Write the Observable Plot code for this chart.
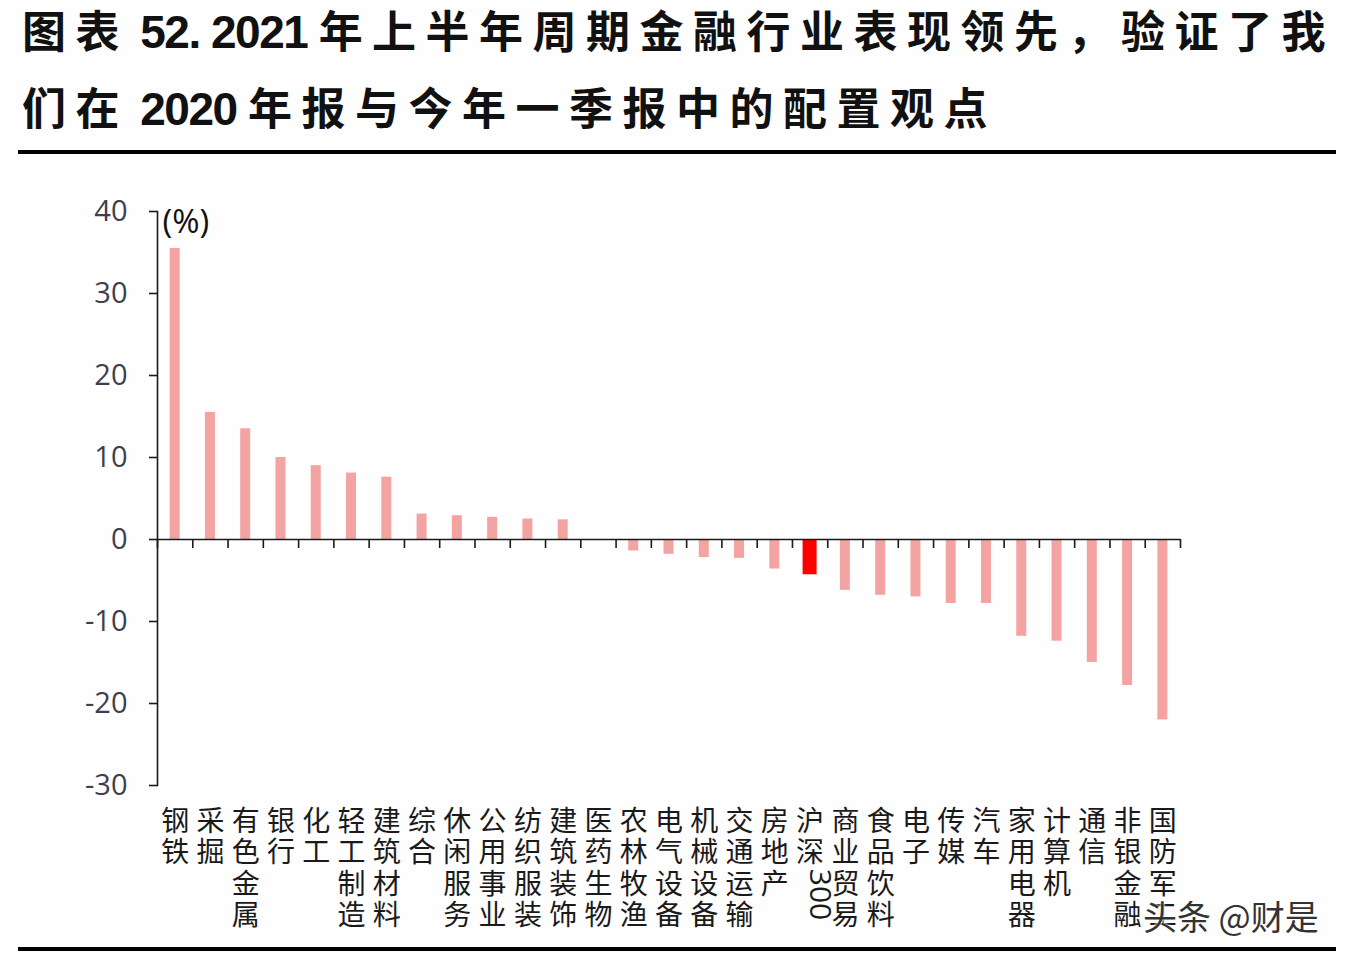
<!DOCTYPE html>
<html><head><meta charset="utf-8">
<script src="https://cdn.jsdelivr.net/npm/d3@7"></script>
<script src="https://cdn.jsdelivr.net/npm/@observablehq/plot@0.6"></script>
<style>
body{margin:0;background:#fff;}
#wrap{position:relative;width:1352px;height:960px;overflow:hidden;background:#fefefe;}
.tl{position:absolute;left:22px;font-family:"Noto Sans CJK SC",sans-serif;font-weight:700;font-size:44px;line-height:56px;letter-spacing:9.5px;color:#111;white-space:nowrap;}
.num{font-family:"Liberation Sans",Arial,sans-serif;font-weight:700;letter-spacing:-1.5px;font-size:46px;}
.rule{position:absolute;left:18px;width:1318px;height:4px;background:#000;}
#chart{position:absolute;left:0;top:160px;}
#wm{position:absolute;left:1143px;top:891px;font-family:"Noto Sans CJK SC",sans-serif;font-size:34px;color:#333;text-shadow:0 0 2px #fff,0 0 3px #fff;}
</style></head>
<body>
<div id="wrap">
  <div id="t1" class="tl" style="top:1px"></div>
  <div id="t2" class="tl" style="top:78px"></div>
  <div class="rule" style="top:150px"></div>
  <div id="chart"></div>
  <div class="rule" style="top:947px"></div>
  <div id="wm">头条 @财是</div>
</div>
<script>
const titleLine1 = ["图表", " 52. 2021 ", "年上半年周期金融行业表现领先，验证了我"];
const titleLine2 = ["们在", " 2020 ", "年报与今年一季报中的配置观点"];
const categories = ["钢铁","采掘","有色金属","银行","化工","轻工制造","建筑材料","综合","休闲服务","公用事业","纺织服装","建筑装饰","医药生物","农林牧渔","电气设备","机械设备","交通运输","房地产","沪深300","商业贸易","食品饮料","电子","传媒","汽车","家用电器","计算机","通信","非银金融","国防军工"];
const values = [35.5,15.5,13.5,10.0,9.0,8.1,7.6,3.1,2.9,2.7,2.5,2.4,0.0,-1.4,-1.8,-2.2,-2.3,-3.6,-4.3,-6.2,-6.8,-7.0,-7.8,-7.8,-11.8,-12.4,-15.0,-17.8,-22.0];
const highlight = "沪深300";
const yTicks = [-30,-20,-10,0,10,20,30,40];
const unitLabel = "(%)";

const mk = (parts) => parts.map((p,i)=> i===1 ? `<span class="num">${p}</span>` : p).join("");
document.getElementById("t1").innerHTML = mk(titleLine1);
document.getElementById("t2").innerHTML = mk(titleLine2);

const data = categories.map((c,i)=>({cat:c, value:values[i]}));
const labelRows = categories.map(c => {
  const tokens = c.match(/\d+|./g);
  return {cat:c, chars: tokens.filter(s=>!/\d/.test(s)).join("\n"), digits: tokens.filter(s=>/\d/.test(s)).join("")};
});
const W=1352, H=786, ML=157, MR=172, MT=51, MB=161;
const step = (W-ML-MR)/categories.length;
const axisColor = "#1a1a1a";

const chart = Plot.plot({
  width: W, height: H, marginLeft: ML, marginRight: MR, marginTop: MT, marginBottom: MB,
  x: {domain: categories, padding: 0, round: false, axis: null},
  y: {domain: [-30, 40], axis: null, label: null},
  style: {background: "transparent", overflow: "visible", fontFamily: "'Open Sans', sans-serif"},
  marks: [
    Plot.barY(data.filter(d=>d.cat!==highlight), {x:"cat", y:"value", fill:"#f3a4a2", insetLeft:(step-10)/2, insetRight:(step-10)/2}),
    Plot.barY(data.filter(d=>d.cat===highlight), {x:"cat", y:"value", fill:"#ff0000", insetLeft:(step-14)/2, insetRight:(step-14)/2}),
    Plot.frame({anchor:"left", stroke:axisColor, strokeWidth:1.6}),
    Plot.ruleY([0], {stroke:axisColor, strokeWidth:1.6}),
    Plot.ruleX(categories, {x:d=>d, y1:0, y2:-1.1, dx:-step/2, stroke:axisColor, strokeWidth:1.6}),
    Plot.ruleX([categories[categories.length-1]], {x:d=>d, y1:0, y2:-1.1, dx:step/2, stroke:axisColor, strokeWidth:1.6}),
    Plot.axisY({ticks: yTicks, label: null, tickSize: 8, tickPadding: 22, fontSize: 29, stroke: axisColor, strokeWidth: 1.6, fill: "#3e3e4e", tickFormat: d=>String(d)}),
    Plot.text([unitLabel], {frameAnchor:"top-left", textAnchor:"start", lineAnchor:"middle", dx:5, dy:11, fontSize:33, fill:"#111"}),
    Plot.text(labelRows, {x:"cat", text:"chars", frameAnchor:"bottom", lineAnchor:"top", lineHeight:1.125, dy:23, fontSize:28, fill:"#1a1a1a", fontFamily:"'Noto Sans CJK SC', sans-serif"}),
    Plot.text(labelRows.filter(d=>d.digits), {x:"cat", text:"digits", rotate:90, frameAnchor:"bottom", dy:109, fontSize:30, fill:"#1a1a1a", fontFamily:"'Open Sans', sans-serif"})
  ]
});
document.getElementById("chart").appendChild(chart);
</script>
</body></html>
